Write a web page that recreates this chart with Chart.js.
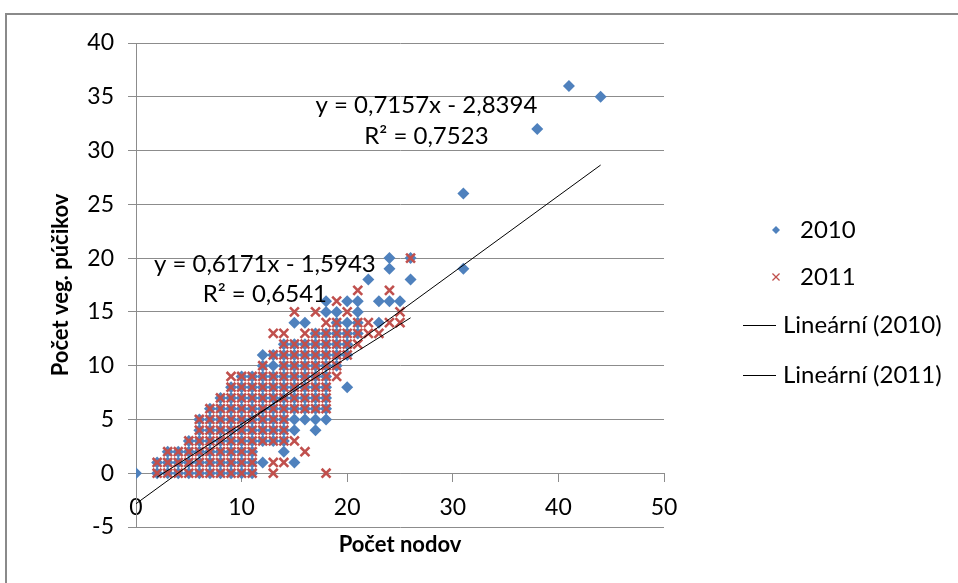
<!DOCTYPE html>
<html>
<head>
<meta charset="utf-8">
<script src="https://cdn.jsdelivr.net/npm/chart.js@4.4.1/dist/chart.umd.min.js"></script>
<style>
  html, body { margin: 0; padding: 0; background: #fff; }
  #frame { position: absolute; left: 5px; top: 13px; width: 960px; height: 600px; border: 2px solid #8a8a8a; box-sizing: border-box; }
  #wrap { position: absolute; left: 0; top: 0; width: 958px; height: 583px; }
</style>
</head>
<body>
<div id="frame"></div>
<div id="wrap"><canvas id="scatterChart" width="958" height="583"></canvas></div>
<script>
// x values (Počet nodov) and the y values found at each x (Počet veg. púčikov)
const cols2010 = [0, 2, 3, 4, 5, 6, 7, 8, 9, 10, 11, 12, 13, 14, 15, 16, 17, 18, 19, 20, 21, 22, 23, 24, 25, 26, 31, 38, 41, 44];
const ys2010 = [
    [0],
    [0, 1],
    [0, 1, 2],
    [0, 1, 2],
    [0, 1, 2, 3],
    [0, 1, 2, 3, 4, 5],
    [0, 1, 2, 3, 4, 5, 6],
    [0, 1, 2, 3, 4, 5, 6, 7],
    [0, 1, 2, 3, 4, 5, 6, 7, 8],
    [0, 1, 2, 3, 4, 5, 6, 7, 8, 9],
    [0, 1, 2, 3, 4, 5, 6, 7, 8, 9],
    [1, 3, 4, 5, 6, 7, 8, 9, 10, 11],
    [3, 4, 5, 6, 7, 8, 9, 10, 11],
    [2, 3, 4, 5, 6, 7, 8, 9, 10, 11, 12],
    [1, 4, 5, 6, 7, 8, 9, 10, 11, 12, 14],
    [5, 6, 7, 8, 9, 10, 11, 12, 14],
    [4, 5, 6, 7, 8, 9, 10, 11, 12, 13],
    [5, 6, 7, 8, 9, 10, 11, 12, 13, 15, 16],
    [10, 11, 12, 13, 14, 15],
    [8, 11, 12, 13, 14, 16],
    [13, 14, 15, 16],
    [18],
    [14, 16],
    [16, 19, 20],
    [16],
    [18, 20],
    [19, 26],
    [32],
    [36],
    [35]
];

const cols2011 = [2, 3, 4, 5, 6, 7, 8, 9, 10, 11, 12, 13, 14, 15, 16, 17, 18, 19, 20, 21, 22, 23, 24, 25, 26];
const ys2011 = [
    [0, 1],
    [0, 1, 2],
    [0, 1, 2],
    [0, 1, 2, 3],
    [0, 1, 2, 3, 4, 5],
    [0, 1, 2, 3, 4, 5, 6],
    [0, 1, 2, 3, 4, 5, 6, 7],
    [0, 1, 2, 3, 4, 5, 6, 7, 8, 9],
    [0, 1, 2, 3, 4, 5, 6, 7, 8, 9],
    [0, 1, 2, 3, 4, 5, 6, 7, 8, 9],
    [3, 4, 5, 6, 7, 8, 9, 10],
    [0, 1, 3, 4, 5, 6, 7, 8, 9, 11, 13],
    [1, 3, 4, 5, 6, 7, 8, 9, 10, 11, 12, 13],
    [3, 6, 7, 8, 9, 10, 11, 12, 15],
    [2, 6, 7, 8, 9, 10, 11, 12, 13],
    [6, 7, 8, 9, 10, 11, 12, 13, 15],
    [0, 6, 7, 8, 9, 10, 11, 12, 13, 14],
    [9, 10, 11, 12, 13, 14, 16],
    [11, 12, 13, 15],
    [12, 13, 14, 17],
    [13, 14],
    [13],
    [14, 17],
    [14, 15],
    [20]
];

// linear trend lines (Excel): slope, intercept, x range
const trendSlope = [0.7157, 0.6171];
const trendIntercept = [-2.8394, -1.5943];
const trendFrom = [0, 2];
const trendTo = [44, 26];
const trendEquation = ['y = 0,7157x - 2,8394', 'y = 0,6171x - 1,5943'];
const trendR2 = ['R² = 0,7523', 'R² = 0,6541'];
// where the equation labels sit, in data units (centre of the text)
const labelX = [27.5, 12.2];
const labelY = [34.2, 19.4];
const labelR2Y = [31.3, 16.6];

const legendLabels = ['2010', '2011', 'Lineární (2010)', 'Lineární (2011)'];

const blue = '#4F81BD';
const red = '#C0504D';
const gridColor = '#8c8c8c';
const fontFamily = 'Lato, "Open Sans", sans-serif';

function toPoints(cols, ys) {
    const pts = [];
    cols.forEach((x, i) => ys[i].forEach(y => pts.push({ x: x, y: y })));
    return pts;
}

function trendPoints(i) {
    return [trendFrom[i], trendTo[i]].map(x => ({ x: x, y: trendSlope[i] * x + trendIntercept[i] }));
}

// equation text on the plot
const equationPlugin = {
    id: 'equations',
    afterDatasetsDraw(chart) {
        const ctx = chart.ctx;
        const xs = chart.scales.x, ys = chart.scales.y;
        ctx.save();
        ctx.fillStyle = '#000';
        ctx.font = '24px ' + fontFamily;
        ctx.textAlign = 'center';
        ctx.textBaseline = 'middle';
        for (let i = 0; i < 2; i++) {
            ctx.fillText(trendEquation[i], xs.getPixelForValue(labelX[i]), ys.getPixelForValue(labelY[i]));
            ctx.fillText(trendR2[i], xs.getPixelForValue(labelX[i]), ys.getPixelForValue(labelR2Y[i]));
        }
        ctx.restore();
    }
};

// legend on the right, drawn like the Excel one
const legendPlugin = {
    id: 'sideLegend',
    afterDraw(chart) {
        const ctx = chart.ctx;
        const rowY = [230, 277, 325, 375];
        ctx.save();
        ctx.font = '24px ' + fontFamily;
        ctx.textBaseline = 'middle';
        // markers
        ctx.fillStyle = blue;
        Chart.helpers.drawPoint(ctx, { pointStyle: 'rectRot', radius: 4, borderWidth: 0 }, 776, rowY[0]);
        ctx.strokeStyle = red;
        ctx.lineWidth = 1.3;
        Chart.helpers.drawPoint(ctx, { pointStyle: 'crossRot', radius: 5, borderWidth: 1.3 }, 776, rowY[1]);
        ctx.strokeStyle = '#000';
        ctx.lineWidth = 1;
        for (let i = 2; i < 4; i++) {
            ctx.beginPath();
            ctx.moveTo(743, rowY[i] + 0.5);
            ctx.lineTo(776, rowY[i] + 0.5);
            ctx.stroke();
        }
        ctx.fillStyle = '#000';
        ctx.fillText(legendLabels[0], 800, rowY[0]);
        ctx.fillText(legendLabels[1], 800, rowY[1]);
        ctx.fillText(legendLabels[2], 783, rowY[2]);
        ctx.fillText(legendLabels[3], 783, rowY[3]);
        ctx.restore();
    }
};

const ctx = document.getElementById('scatterChart').getContext('2d');
new Chart(ctx, {
    type: 'scatter',
    data: {
        datasets: [
            {
                label: legendLabels[0],
                data: toPoints(cols2010, ys2010),
                pointStyle: 'rectRot',
                pointRadius: 6,
                backgroundColor: blue,
                borderColor: blue,
                borderWidth: 0,
                order: 3
            },
            {
                label: legendLabels[1],
                data: toPoints(cols2011, ys2011),
                pointStyle: 'crossRot',
                pointRadius: 6.3,
                borderColor: red,
                backgroundColor: red,
                borderWidth: 2.6,
                order: 2
            },
            {
                label: legendLabels[2],
                type: 'line',
                data: trendPoints(0),
                borderColor: '#000',
                borderWidth: 1,
                pointRadius: 0,
                fill: false,
                order: 1
            },
            {
                label: legendLabels[3],
                type: 'line',
                data: trendPoints(1),
                borderColor: '#000',
                borderWidth: 1,
                pointRadius: 0,
                fill: false,
                order: 0
            }
        ]
    },
    options: {
        responsive: false,
        animation: false,
        layout: { padding: { left: 40, right: 294, top: 43, bottom: 56 } },
        plugins: {
            legend: { display: false },
            tooltip: { enabled: false }
        },
        scales: {
            x: {
                type: 'linear',
                position: { y: 0 },
                min: 0,
                max: 50,
                ticks: { stepSize: 10, color: '#000', padding: 13, maxRotation: 0, font: { family: fontFamily, size: 23 } },
                grid: { drawOnChartArea: false, tickLength: 8, color: gridColor },
                border: { color: gridColor, width: 1 },
                title: { display: true, text: 'Počet nodov', color: '#000', padding: { top: -3, bottom: 0 }, font: { family: fontFamily, size: 22, weight: 'bold' } }
            },
            y: {
                type: 'linear',
                min: -5,
                max: 40,
                ticks: { stepSize: 5, color: '#000', padding: 14, font: { family: fontFamily, size: 23 } },
                grid: { color: gridColor, tickLength: 8 },
                border: { color: gridColor, width: 1 },
                title: { display: true, text: 'Počet veg. púčikov', color: '#000', padding: { top: 8, bottom: 4 }, font: { family: fontFamily, size: 22, weight: 'bold' } },
                afterFit(scale) { scale.width = 96; }
            }
        }
    },
    plugins: [equationPlugin, legendPlugin]
});
</script>
</body>
</html>
